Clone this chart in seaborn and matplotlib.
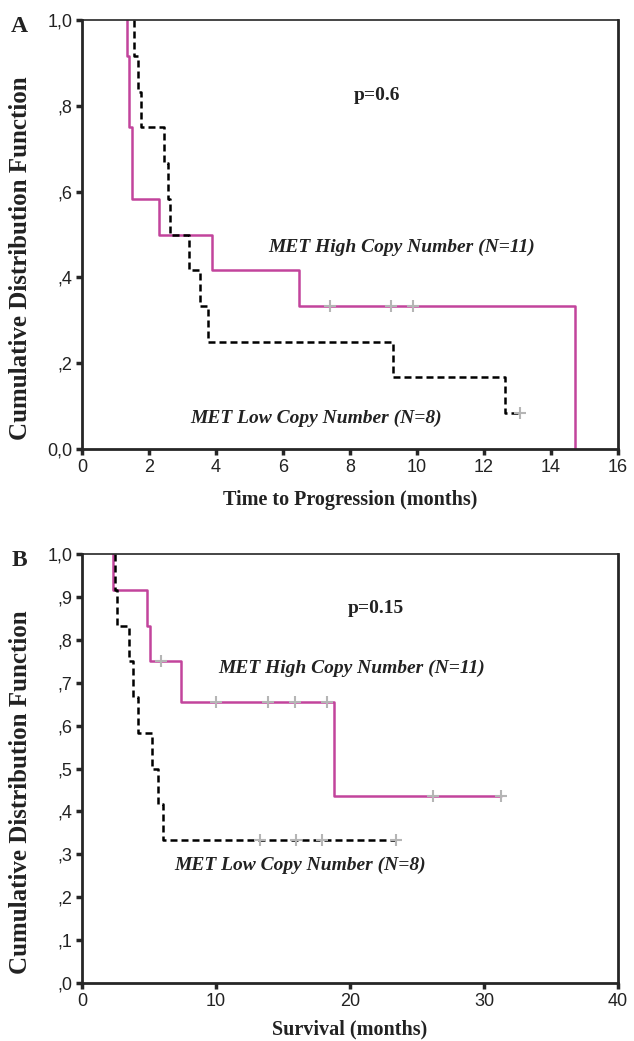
"""Kaplan-Meier style curves for MET copy number groups (TTP and survival)."""

import matplotlib

matplotlib.use("Agg")
import matplotlib.pyplot as plt
import numpy as np
import pandas as pd
import seaborn as sns

# Panel A - time to progression (months)
ttp_high_times = [1.34, 1.40, 1.49, 2.29, 3.87, 6.49, 14.73]
ttp_high_surv = [0.917, 0.75, 0.583, 0.5, 0.417, 0.333, 0.0]
ttp_high_end = 14.73
ttp_high_censor = [7.41, 9.23, 9.88]

ttp_low_times = [1.55, 1.67, 1.76, 2.44, 2.56, 2.62, 3.18, 3.51, 3.75, 9.29, 12.62]
ttp_low_surv = [0.917, 0.833, 0.75, 0.667, 0.583, 0.5, 0.417, 0.333, 0.25, 0.167, 0.083]
ttp_low_end = 13.07
ttp_low_censor = [13.07]

# Panel B - overall survival (months)
os_high_times = [2.31, 4.85, 5.07, 7.39, 18.8]
os_high_surv = [0.917, 0.833, 0.75, 0.656, 0.437]
os_high_end = 31.3
os_high_censor = [5.9, 10.0, 13.9, 15.9, 18.3, 26.2, 31.3]

os_low_times = [2.46, 2.6, 3.5, 3.8, 4.18, 5.2, 5.67, 6.05]
os_low_surv = [0.917, 0.833, 0.75, 0.667, 0.583, 0.5, 0.417, 0.333]
os_low_end = 23.4
os_low_censor = [13.3, 16.0, 17.9, 23.4]

groups = ["MET High Copy Number", "MET Low Copy Number"]
ticks_a = [0, 2, 4, 6, 8, 10, 12, 14, 16]
yticks_a = [0.0, 0.2, 0.4, 0.6, 0.8, 1.0]
ylabels_a = ["0,0", ",2", ",4", ",6", ",8", "1,0"]
ticks_b = [0, 10, 20, 30, 40]
yticks_b = [0.0, 0.1, 0.2, 0.3, 0.4, 0.5, 0.6, 0.7, 0.8, 0.9, 1.0]
ylabels_b = [",0", ",1", ",2", ",3", ",4", ",5", ",6", ",7", ",8", ",9", "1,0"]

MAGENTA = "#c2449c"
CENSOR = "#b5b5b5"
SERIF = "Liberation Serif"
SANS = "Liberation Sans"

sns.set_style("ticks")
plt.rcParams["font.family"] = [SANS, "DejaVu Sans"]


def step_frame(times, surv, end, name):
    """Turn event times / survival levels into step points."""
    x = [times[0]] + list(times) + [end]
    y = [1.0] + list(surv) + [surv[-1]]
    return pd.DataFrame({"time": x, "surv": y, "group": name})


def censor_frame(times, surv, censor, name):
    """Place censor marks on the step level they fall on."""
    idx = np.searchsorted(times, censor, side="right") - 1
    levels = [surv[i] if i >= 0 else 1.0 for i in idx]
    return pd.DataFrame({"time": censor, "surv": levels, "group": name})


def draw_panel(ax, high, low, xmax, xticks, yticks, ylabels):
    curves = pd.concat([step_frame(*high[:3], groups[0]),
                        step_frame(*low[:3], groups[1])])
    marks = pd.concat([censor_frame(high[0], high[1], high[3], groups[0]),
                       censor_frame(low[0], low[1], low[3], groups[1])])

    sns.lineplot(data=curves, x="time", y="surv", hue="group", style="group",
                 palette={groups[0]: MAGENTA, groups[1]: "black"},
                 dashes={groups[0]: "", groups[1]: (2.8, 1.6)},
                 estimator=None, sort=False, drawstyle="steps-post",
                 linewidth=1.8, legend=False, ax=ax)
    sns.scatterplot(data=marks, x="time", y="surv", marker="+", s=80,
                    color=CENSOR, linewidth=1.5, legend=False, ax=ax, zorder=3)

    ax.set_xlim(0, xmax)
    ax.set_ylim(0, 1)
    ax.set_xticks(xticks)
    ax.set_yticks(yticks)
    ax.set_yticklabels(ylabels)
    ax.tick_params(direction="out", length=4, width=2.5, labelsize=13,
                   labelcolor="#222222", pad=3)
    for side in ["left", "bottom", "right"]:
        ax.spines[side].set_linewidth(2)
    ax.spines["top"].set_linewidth(1.2)
    ax.set_ylabel("Cumulative Distribution Function", fontsize=18,
                  fontweight="bold", family=SERIF, color="#222222")
    ax.yaxis.set_label_coords(-0.093, 0.445)


fig = plt.figure(figsize=(6.34, 10.41), dpi=100)
W, H = 634, 1041
axA = fig.add_axes([82 / W, 1 - 449 / H, 536 / W, 429 / H])
axB = fig.add_axes([82 / W, 1 - 983 / H, 536 / W, 429 / H])

draw_panel(axA,
           (ttp_high_times, ttp_high_surv, ttp_high_end, ttp_high_censor),
           (ttp_low_times, ttp_low_surv, ttp_low_end, ttp_low_censor),
           16, ticks_a, yticks_a, ylabels_a)
draw_panel(axB,
           (os_high_times, os_high_surv, os_high_end, os_high_censor),
           (os_low_times, os_low_surv, os_low_end, os_low_censor),
           40, ticks_b, yticks_b, ylabels_b)

axA.set_xlabel("Time to Progression (months)", fontsize=14.5, fontweight="bold",
               family=SERIF, color="#222222")
axA.xaxis.set_label_coords(0.5, -0.095)
axB.set_xlabel("Survival (months)", fontsize=14.5, fontweight="bold",
               family=SERIF, color="#222222")
axB.xaxis.set_label_coords(0.5, -0.086)

note = dict(fontsize=14, fontweight="bold", family=SERIF, color="#222222",
            ha="center", va="center")
axA.text(8.8, 0.825, "p=0.6", **note)
axA.text(9.55, 0.47, "MET High Copy Number (N=11)", style="italic", **note)
axA.text(7.0, 0.072, "MET Low Copy Number (N=8)", style="italic", **note)
axB.text(21.9, 0.874, "p=0.15", **note)
axB.text(20.1, 0.734, "MET High Copy Number (N=11)", style="italic", **note)
axB.text(16.3, 0.275, "MET Low Copy Number (N=8)", style="italic", **note)

fig.text(19 / W, 1 - 26 / H, "A", fontsize=17, fontweight="bold", family=SERIF,
         ha="center", va="center", color="#222222")
fig.text(19 / W, 1 - 560 / H, "B", fontsize=17, fontweight="bold", family=SERIF,
         ha="center", va="center", color="#222222")

fig.savefig("out.png", dpi=100)
